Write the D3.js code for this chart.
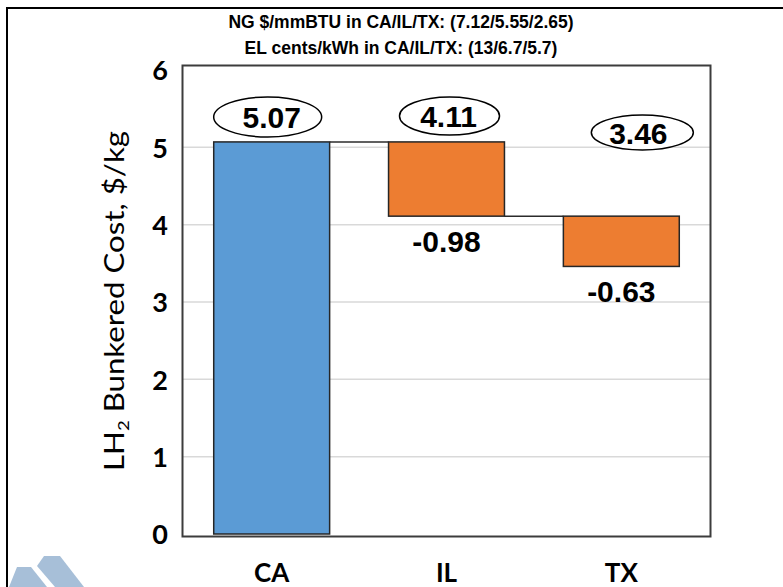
<!DOCTYPE html>
<html>
<head>
<meta charset="utf-8">
<script src="https://cdn.jsdelivr.net/npm/d3@7"></script>
<style>
  html, body { margin: 0; padding: 0; background: #fff; }
  svg { display: block; }
</style>
</head>
<body>
<svg id="chart" width="783" height="587"></svg>
<script>
// Waterfall of LH2 bunkered cost, CA -> IL -> TX
const categories = ["CA", "IL", "TX"];
const barBase   = [0, 4.11, 3.46];      // bottom of each bar ($/kg)
const barTop    = [5.07, 5.07, 4.11];   // top of each bar ($/kg)
const totals    = [5.07, 4.11, 3.46];   // resulting cost per state
const deltas    = [null, -0.98, -0.63]; // step change shown under bars
const barKinds  = ["total", "delta", "delta"];
const yTicks    = [0, 1, 2, 3, 4, 5, 6];
const titleLines = [
  "NG $/mmBTU in CA/IL/TX: (7.12/5.55/2.65)",
  "EL cents/kWh in CA/IL/TX: (13/6.7/5.7)"
];

const svg = d3.select("#chart");
const W = 783, H = 587;

// plot frame
const frame = { x0: 182.5, y0: 65.5, x1: 710.5, y1: 536.5 };

const x = d3.scaleBand()
  .domain(categories)
  .range([184, 709])
  .paddingInner(0.337)
  .paddingOuter(0.17);

const y = d3.scaleLinear().domain([0, 6]).range([534, 70]);

const colors = { total: "#5b9bd5", delta: "#ed7d31" };

// outer border (left and top only)
svg.append("path")
  .attr("d", `M7,${H} L7,8 L${W},8`)
  .attr("fill", "none")
  .attr("stroke", "#000")
  .attr("stroke-width", 2);

// logo mark in the bottom-left corner
const logo = svg.append("g").attr("fill", "#a7bfd8");
logo.append("path").attr("d", "M9,587 L17,567 L31,567 L47,587 Z");
logo.append("path").attr("d", "M44,556 L60,556 L84,587 L55,587 L37,566 Z");

// title lines
svg.selectAll("text.title")
  .data(titleLines)
  .join("text")
  .attr("class", "title")
  .attr("x", 401)
  .attr("y", (d, i) => 28 + i * 26)
  .attr("text-anchor", "middle")
  .attr("font-family", "'Liberation Sans', Arial, sans-serif")
  .attr("font-weight", "bold")
  .attr("font-size", 17.5)
  .attr("fill", "#000")
  .text(d => d);

// gridlines
svg.append("g")
  .selectAll("line")
  .data(yTicks.filter(t => t > 0 && t < 6))
  .join("line")
  .attr("x1", frame.x0).attr("x2", frame.x1)
  .attr("y1", d => y(d)).attr("y2", d => y(d))
  .attr("stroke", "#d9d9d9")
  .attr("stroke-width", 1.5);

// frame
svg.append("rect")
  .attr("x", frame.x0).attr("y", frame.y0)
  .attr("width", frame.x1 - frame.x0)
  .attr("height", frame.y1 - frame.y0)
  .attr("fill", "none")
  .attr("stroke", "#3c3c3c")
  .attr("stroke-width", 2);

// y axis tick labels
const yAxis = d3.axisLeft(y).tickValues(yTicks).tickFormat(d3.format("d")).tickSize(0).tickPadding(0);
const yg = svg.append("g").attr("transform", "translate(168,0)").call(yAxis);
yg.select(".domain").remove();
yg.selectAll("text")
  .attr("font-family", "Lato, 'Open Sans', sans-serif")
  .attr("font-weight", "bold")
  .attr("font-size", 27)
  .attr("fill", "#000")
  .attr("dy", "0.36em");

// x axis category labels
const xAxis = d3.axisBottom(x).tickSize(0).tickPadding(0);
const xg = svg.append("g").attr("transform", "translate(0,582)").call(xAxis);
xg.select(".domain").remove();
xg.selectAll("text")
  .attr("font-family", "Lato, 'Open Sans', sans-serif")
  .attr("font-weight", "bold")
  .attr("font-size", 26)
  .attr("fill", "#000")
  .attr("dy", 0);

// y axis title
const yTitle = svg.append("text")
  .attr("transform", "translate(124,301) rotate(-90)")
  .attr("text-anchor", "middle")
  .attr("font-family", "Lato, 'Open Sans', sans-serif")
  .attr("font-size", 27)
  .attr("textLength", 340)
  .attr("lengthAdjust", "spacingAndGlyphs")
  .attr("fill", "#000");
yTitle.append("tspan").text("LH");
yTitle.append("tspan").attr("font-size", 16).attr("dy", 5).text("2");
yTitle.append("tspan").attr("dy", -5).text(" Bunkered Cost, $/kg");

// connector lines between bars
const connectors = d3.range(categories.length - 1).map(i => ({
  from: categories[i], to: categories[i + 1], value: barTop[i + 1]
}));
svg.append("g")
  .selectAll("line")
  .data(connectors)
  .join("line")
  .attr("x1", d => x(d.from) + x.bandwidth())
  .attr("x2", d => x(d.to))
  .attr("y1", d => y(d.value))
  .attr("y2", d => y(d.value))
  .attr("stroke", "#2b2b2b")
  .attr("stroke-width", 1.5);

// bars
svg.append("g")
  .selectAll("rect")
  .data(categories)
  .join("rect")
  .attr("x", d => x(d))
  .attr("width", x.bandwidth())
  .attr("y", (d, i) => y(barTop[i]))
  .attr("height", (d, i) => y(barBase[i]) - y(barTop[i]))
  .attr("fill", (d, i) => colors[barKinds[i]])
  .attr("stroke", "#262626")
  .attr("stroke-width", 1.5);

// total labels in ellipses
const totalLayout = [
  { dx: -4, ty: 117, rx: 54, ry: 20, tdx: 0 },
  { dx: 3,  ty: 116, rx: 50, ry: 19, tdx: 2 },
  { dx: 21, ty: 132.5, rx: 51, ry: 17.5, tdx: 17 }
];
const lbl = svg.append("g");
categories.forEach((c, i) => {
  const cx = x(c) + x.bandwidth() / 2;
  const L = totalLayout[i];
  lbl.append("ellipse")
    .attr("cx", cx + L.dx).attr("cy", L.ty)
    .attr("rx", L.rx).attr("ry", L.ry)
    .attr("fill", "#fff")
    .attr("stroke", "#000")
    .attr("stroke-width", 1.5);
  lbl.append("text")
    .attr("x", cx + L.tdx).attr("y", L.ty + 11)
    .attr("text-anchor", "middle")
    .attr("font-family", "'Liberation Sans', Arial, sans-serif")
    .attr("font-weight", "bold")
    .attr("font-size", 30)
    .attr("fill", "#000")
    .text(totals[i].toFixed(2));
});

// delta labels under the step bars
categories.forEach((c, i) => {
  if (deltas[i] === null) return;
  lbl.append("text")
    .attr("x", x(c) + x.bandwidth() / 2)
    .attr("y", y(barBase[i]) + 36)
    .attr("text-anchor", "middle")
    .attr("font-family", "'Liberation Sans', Arial, sans-serif")
    .attr("font-weight", "bold")
    .attr("font-size", 30)
    .attr("fill", "#000")
    .text(deltas[i].toFixed(2));
});
</script>
</body>
</html>
